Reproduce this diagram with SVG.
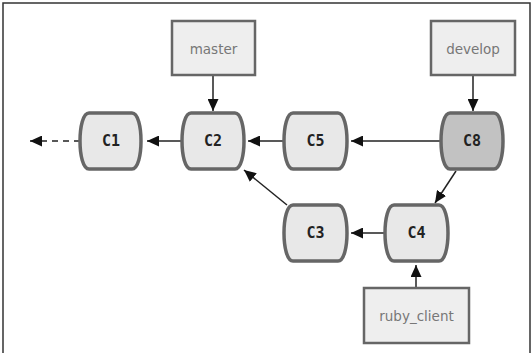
<svg xmlns="http://www.w3.org/2000/svg" width="531" height="353" viewBox="0 0 531 353">
<defs>
<marker id="ah" markerUnits="userSpaceOnUse" markerWidth="13" markerHeight="11" refX="12" refY="5.5" orient="auto">
<path d="M0,0 L12,5.5 L0,11 Z" fill="#111"/>
</marker>
</defs>
<style>
.node{fill:#e8e8e8;stroke:#666;stroke-width:3.5}
.head{fill:#c2c2c2}
.ntext{font-family:"DejaVu Sans Mono",monospace;font-weight:bold;font-size:15px;fill:#222;text-anchor:middle}
.lbl{fill:#eeeeee;stroke:#666;stroke-width:2.5}
.ltext{font-family:"DejaVu Sans","Liberation Sans",sans-serif;font-size:13.5px;fill:#777;text-anchor:middle}
.edge{stroke:#222;stroke-width:1.5;fill:none;marker-end:url(#ah)}
</style>
<rect x="0" y="0" width="531" height="353" fill="#fff"/>
<rect x="3" y="3" width="527" height="355" fill="none" stroke="#333" stroke-width="1.5"/>
<g id="connectors">
<line class="edge" x1="80" y1="141" x2="30" y2="141" stroke-dasharray="6,5"/>
<line class="edge" x1="182" y1="141" x2="147" y2="141"/>
<line class="edge" x1="284" y1="141" x2="248" y2="141"/>
<line class="edge" x1="441" y1="141" x2="351" y2="141"/>
<line class="edge" x1="456" y1="171" x2="435" y2="203"/>
<line class="edge" x1="287" y1="205" x2="244" y2="170"/>
<line class="edge" x1="385" y1="233" x2="351" y2="233"/>
<line class="edge" x1="213" y1="75" x2="213" y2="111"/>
<line class="edge" x1="473" y1="75" x2="473" y2="111"/>
<line class="edge" x1="416" y1="288" x2="416" y2="265"/>
</g>
<g id="C1"><path class="node" d="M89,113 H132 C144,113 144,169 132,169 H89 C77,169 77,113 89,113 Z"/><text class="ntext" x="111" y="146">C1</text></g>
<g id="C2"><path class="node" d="M191,113 H235 C247,113 247,169 235,169 H191 C179,169 179,113 191,113 Z"/><text class="ntext" x="213" y="146">C2</text></g>
<g id="C5"><path class="node" d="M293,113 H338 C350,113 350,169 338,169 H293 C281,169 281,113 293,113 Z"/><text class="ntext" x="315.5" y="146">C5</text></g>
<g id="C8"><path class="node head" d="M450,113 H494 C506,113 506,169 494,169 H450 C438,169 438,113 450,113 Z"/><text class="ntext" x="472" y="146">C8</text></g>
<g id="C3"><path class="node" d="M293,205 H338 C350,205 350,261 338,261 H293 C281,261 281,205 293,205 Z"/><text class="ntext" x="315.5" y="238">C3</text></g>
<g id="C4"><path class="node" d="M394,205 H439 C451,205 451,261 439,261 H394 C382,261 382,205 394,205 Z"/><text class="ntext" x="416.5" y="238">C4</text></g>
<g id="master"><rect class="lbl" x="172" y="21" width="83" height="54"/><text class="ltext" x="213.5" y="54">master</text></g>
<g id="develop"><rect class="lbl" x="431" y="21" width="84" height="54"/><text class="ltext" x="473" y="54">develop</text></g>
<g id="ruby_client"><rect class="lbl" x="364" y="288" width="105" height="55"/><text class="ltext" x="416.5" y="321">ruby_client</text></g>
</svg>
